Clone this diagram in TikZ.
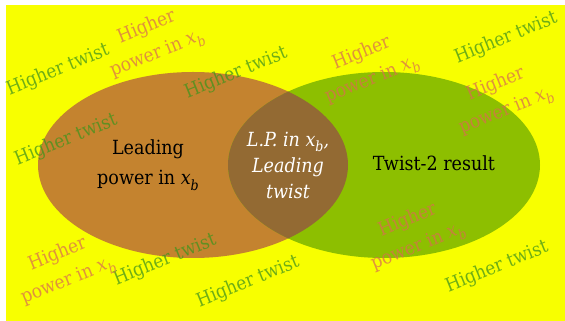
\documentclass[tikz,border=0pt]{standalone}
\usepackage{fontspec}
\usepackage{graphicx}
\setmainfont{DejaVu Serif Condensed}
\newcommand\xsubb{\textit{x}\raisebox{-0.3em}{\scalebox{0.72}{\textit{b}}}}
\definecolor{bgyellow}{RGB}{248,255,0}
\definecolor{lbrown}{RGB}{196,131,47}
\definecolor{rgreen}{RGB}{141,191,0}
\definecolor{interbrown}{RGB}{147,106,51}
\definecolor{htgreen}{RGB}{65,148,29}
\definecolor{hporange}{RGB}{216,110,80}
\begin{document}
\begin{tikzpicture}[x=1pt,y=1pt,
  ht/.style={text=htgreen, text opacity=0.75, rotate=22, inner sep=0pt,
    font=\fontsize{19}{28}\selectfont},
  hp/.style={text=hporange, text opacity=0.75, rotate=22, align=center, inner sep=0pt,
    font=\fontsize{19}{28}\selectfont},
  lbl/.style={align=center, inner sep=0pt, font=\fontsize{19.5}{30}\selectfont}]
\useasboundingbox (0,0) rectangle (565,321);
\fill[bgyellow] (6,0) rectangle (565,316);
\fill[lbrown] (193,156) ellipse [x radius=155, y radius=93];
\fill[rgreen] (384,156) ellipse [x radius=156, y radius=93];
\begin{scope}
  \clip (193,156) ellipse [x radius=155, y radius=93];
  \fill[interbrown] (384,156) ellipse [x radius=156, y radius=93];
\end{scope}
% main labels
\node[lbl] (lead) at (148,156) {Leading\\power in \xsubb};
\node[lbl, text=white, font=\itshape\fontsize{19.5}{26}\selectfont] (lp) at (288,156) {L.P. in \xsubb,\\Leading\\twist};
\node[lbl] (tw2) at (434,158) {Twist-2 result};
% higher twist
\node[ht] (t1) at (58,251) {Higher twist};
\node[ht] (t2) at (236,248) {Higher twist};
\node[ht] (t3) at (506,283) {Higher twist};
\node[ht] (t4) at (66,181) {Higher twist};
\node[ht] (t5) at (165,61) {Higher twist};
\node[ht] (t6) at (248,39) {Higher twist};
\node[ht] (t7) at (497,54) {Higher twist};
% higher power
\node[hp] (p1) at (152,280) {Higher\\power in \xsubb};
\node[hp] (p2) at (367,254) {Higher\\power in \xsubb};
\node[hp] (p3) at (501,223) {Higher\\power in \xsubb};
\node[hp] (p4) at (63,53) {Higher\\power in \xsubb};
\node[hp] (p5) at (413,87) {Higher\\power in \xsubb};
\end{tikzpicture}
\end{document}
